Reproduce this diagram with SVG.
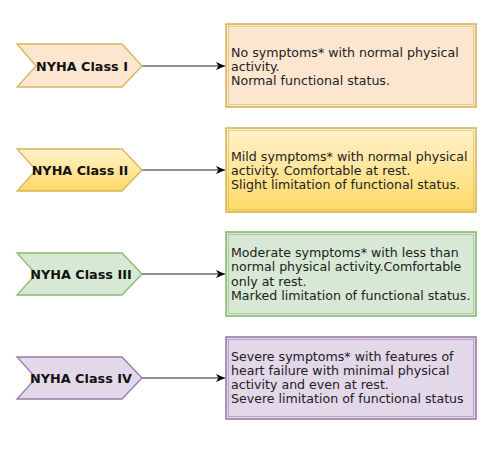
<svg xmlns="http://www.w3.org/2000/svg" width="500" height="452" viewBox="0 0 500 452">
<defs>
<linearGradient id="gy" x1="0" y1="0" x2="0" y2="1"><stop offset="0" stop-color="#fff2cc"/><stop offset="1" stop-color="#ffd966"/></linearGradient>
<marker id="ah" markerWidth="10" markerHeight="8" refX="9" refY="4" orient="auto" markerUnits="userSpaceOnUse"><path d="M0,0 L9,4 L0,8 L2.5,4 Z" fill="#000"/></marker>
<style>
.lbl{font-family:"DejaVu Sans",Verdana,sans-serif;font-weight:bold;font-size:12.8px;fill:#111;text-anchor:middle}
.txt{font-family:"DejaVu Sans",Verdana,sans-serif;font-size:12.6px;fill:#222}
.conn{stroke:#222;stroke-width:1.2;fill:none;marker-end:url(#ah)}
.p{fill:#fde6cf;stroke:#d6b656}
.y{fill:url(#gy);stroke:#d6b656}
.g{fill:#d7e9d4;stroke:#8ab872}
.v{fill:#e3d7ea;stroke:#9a7aaa}
.box{stroke-width:1.6}
.inner{fill:none;stroke-width:0.8;opacity:0.7}
</style>
</defs>
<rect width="500" height="452" fill="#fff"/>
<g id="connectors">
<line class="conn" x1="142" y1="66" x2="225" y2="66"/>
<line class="conn" x1="142" y1="170" x2="225" y2="170"/>
<line class="conn" x1="142" y1="274" x2="225" y2="274"/>
<line class="conn" x1="142" y1="378" x2="225" y2="378"/>
</g>
<g id="class1">
<polygon class="p" stroke-width="1.3" points="17,44 122,44 142,66 122,87 17,87 36,66"/>
<text class="lbl" x="82" y="71">NYHA Class I</text>
</g>
<g id="desc1">
<rect class="p box" x="226" y="24" width="250" height="83"/>
<rect class="p inner" x="228.5" y="26.5" width="245" height="78"/>
<text class="txt"><tspan x="231" y="57">No symptoms* with normal physical</tspan><tspan x="231" y="71">activity.</tspan><tspan x="231" y="85">Normal functional status.</tspan></text>
</g>
<g id="class2">
<polygon class="y" stroke-width="1.3" points="17,149 122,149 142,170 122,191 17,191 36,170"/>
<text class="lbl" x="80" y="175">NYHA Class II</text>
</g>
<g id="desc2">
<rect class="y box" x="226" y="128" width="250" height="84"/>
<rect class="y inner" fill="none" x="228.5" y="130.5" width="245" height="79"/>
<text class="txt"><tspan x="231" y="160.5">Mild symptoms* with normal physical</tspan><tspan x="231" y="174.5">activity. Comfortable at rest.</tspan><tspan x="231" y="188.5">Slight limitation of functional status.</tspan></text>
</g>
<g id="class3">
<polygon class="g" stroke-width="1.3" points="17,253 122,253 142,274 122,295 17,295 36,274"/>
<text class="lbl" x="81" y="279">NYHA Class III</text>
</g>
<g id="desc3">
<rect class="g box" x="226" y="232" width="250" height="84"/>
<rect class="g inner" x="228.5" y="234.5" width="245" height="79"/>
<text class="txt"><tspan x="231" y="257">Moderate symptoms* with less than</tspan><tspan x="231" y="271.3">normal physical activity.Comfortable</tspan><tspan x="231" y="285.6">only at rest.</tspan><tspan x="231" y="300">Marked limitation of functional status.</tspan></text>
</g>
<g id="class4">
<polygon class="v" stroke-width="1.3" points="17,357 122,357 142,378 122,399 17,399 36,378"/>
<text class="lbl" x="81" y="383">NYHA Class IV</text>
</g>
<g id="desc4">
<rect class="v box" x="226" y="337" width="250" height="82"/>
<rect class="v inner" x="228.5" y="339.5" width="245" height="77"/>
<text class="txt"><tspan x="231" y="361">Severe symptoms* with features of</tspan><tspan x="231" y="375">heart failure with minimal physical</tspan><tspan x="231" y="389">activity and even at rest.</tspan><tspan x="231" y="403">Severe limitation of functional status</tspan></text>
</g>
</svg>
